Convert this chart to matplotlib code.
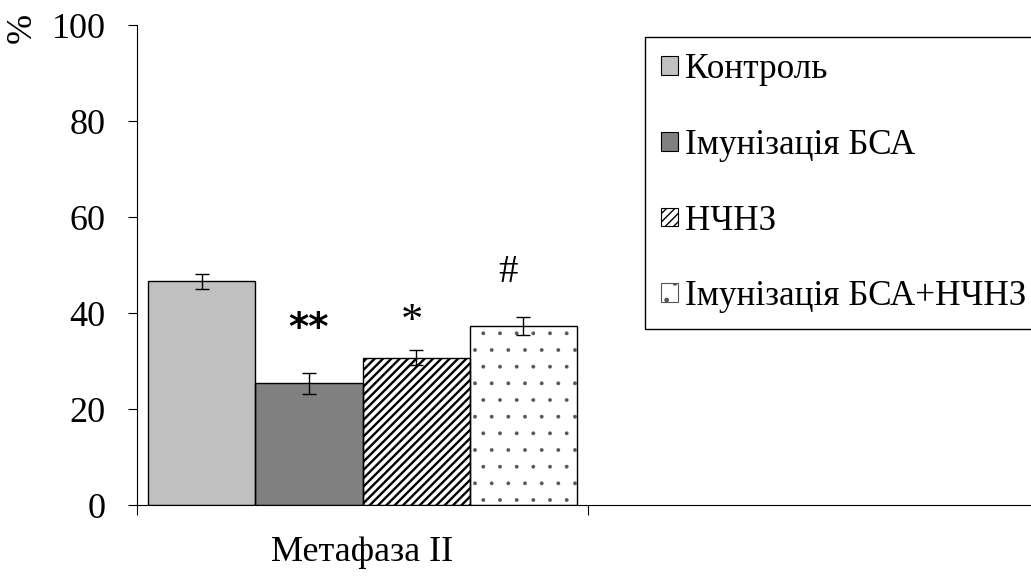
import numpy as np
import matplotlib.pyplot as plt
import matplotlib.patches as mpatches

plt.rcParams['font.family'] = ['Liberation Serif', 'DejaVu Serif']

# дані
categories = ['Метафаза II', '']
groups = ['Контроль', 'Імунізація БСА', 'НЧНЗ', 'Імунізація БСА+НЧНЗ']
values = [46.6, 25.4, 30.7, 37.3]
errors = [1.5, 2.2, 1.5, 1.9]
marks = ['', '**', '*', '#']
mark_y = [0, 36.6, 38.2, 48.5]
mark_dx = [0, 0, -0.01, -0.035]

colors = ['#c0c0c0', '#808080', 'white', 'white']
hatches = [None, None, '////', '.']
hatch_colors = ['black', 'black', 'black', '#555555']
hatch_lw = [1.0, 1.0, 1.7, 0.3]

fig = plt.figure(figsize=(10.31, 5.77), dpi=100)
ax = fig.add_axes([137 / 1031, 1 - 505 / 577, 902 / 1031, 480 / 577])

width = 0.951 / len(groups)
x0 = 0
handles = []
for i, g in enumerate(groups):
    xpos = x0 + (i - 1.5) * width
    with plt.rc_context({'hatch.linewidth': hatch_lw[i]}):
        # заливка з штрихуванням
        b = ax.bar(xpos, values[i], width, color=colors[i], edgecolor=hatch_colors[i],
                   linewidth=0, hatch=hatches[i], zorder=2)
        for p in b:
            if hasattr(p, 'set_hatch_linewidth'):
                p.set_hatch_linewidth(hatch_lw[i])
        # контур
        ax.bar(xpos, values[i], width, fill=False, edgecolor='black',
               linewidth=1.0, zorder=2.5)
        h = mpatches.Patch(facecolor=colors[i], edgecolor=hatch_colors[i],
                           hatch=hatches[i], linewidth=0.8, label=g)
        if hasattr(h, 'set_hatch_linewidth'):
            h.set_hatch_linewidth(hatch_lw[i])
    if hatches[i] != '.':
        h.set_edgecolor('black')
    handles.append(h)
    ax.errorbar(xpos, values[i], yerr=errors[i], fmt='none', ecolor='black',
                elinewidth=1.0, capsize=4.7, capthick=1.0, zorder=3)
    if marks[i]:
        if marks[i] == '**':
            ax.text(xpos + mark_dx[i], mark_y[i], marks[i], ha='center', va='center',
                    fontsize=28, fontweight='bold', family='DejaVu Sans')
        else:
            ax.text(xpos + mark_dx[i], mark_y[i], marks[i], ha='center', va='center',
                    fontsize=32 if marks[i] == '*' else 28)

ax.set_xlim(-0.5, 1.5)
ax.set_ylim(0, 100)
ax.set_yticks(np.arange(0, 101, 20))
ax.tick_params(axis='y', labelsize=26, length=6.5, width=0.8, pad=16)

ax.set_xticks([-0.5, 0.5, 1.5])
ax.set_xticklabels([])
ax.set_xticks([0, 1], minor=True)
ax.set_xticklabels(categories, minor=True)
ax.tick_params(axis='x', which='major', length=7, width=0.8)
ax.tick_params(axis='x', which='minor', length=0, labelsize=26, pad=22)

for s in ['top', 'right']:
    ax.spines[s].set_visible(False)
for s in ['left', 'bottom']:
    ax.spines[s].set_linewidth(0.8)

fig.text(22 / 1031, 1 - 28 / 577, '%', rotation=90, fontsize=26,
         ha='center', va='center')

leg = ax.legend(handles=handles, loc='upper left',
                bbox_to_anchor=(645 / 1031, 1 - 37 / 577),
                bbox_transform=fig.transFigure, fontsize=25.3, frameon=True,
                fancybox=False, edgecolor='black', framealpha=1,
                handlelength=0.5, handleheight=0.45, handletextpad=0.2,
                labelspacing=1.22, borderpad=0.45, borderaxespad=0)
leg.get_frame().set_linewidth(1.0)

fig.savefig('out.png', dpi=100)
